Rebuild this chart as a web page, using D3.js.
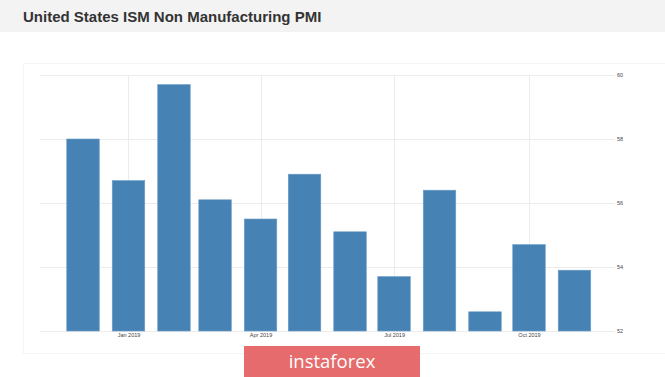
<!DOCTYPE html>
<html>
<head>
<meta charset="utf-8">
<script src="https://cdn.jsdelivr.net/npm/d3@7"></script>
<style>
  html, body { margin: 0; padding: 0; background: #fff; }
  svg { display: block; }
</style>
</head>
<body>
<svg id="chart" width="665" height="377"></svg>
<script>
const title = "United States ISM Non Manufacturing PMI";
const months = ["2018-12-01","2019-01-01","2019-02-01","2019-03-01","2019-04-01","2019-05-01",
                "2019-06-01","2019-07-01","2019-08-01","2019-09-01","2019-10-01","2019-11-01"];
const values = [58.0, 56.7, 59.7, 56.1, 55.5, 56.9, 55.1, 53.7, 56.4, 52.6, 54.7, 53.9];
const yTicks = [52, 54, 56, 58, 60];
const xTickDates = ["2019-01-01","2019-04-01","2019-07-01","2019-10-01"];
const watermark = "instaforex";

const parse = d3.utcParse("%Y-%m-%d");
const data = months.map((m, i) => ({date: parse(m), value: values[i]}));

const svg = d3.select("#chart");
const W = 665, H = 377;

// backgrounds
svg.append("rect").attr("x", 0).attr("y", 0).attr("width", W).attr("height", H).attr("fill", "#ffffff");
svg.append("rect").attr("x", 0).attr("y", 0).attr("width", W).attr("height", 32).attr("fill", "#f3f3f3");
// faint panel frame
svg.append("rect").attr("x", 23.5).attr("y", 63.5).attr("width", 650).attr("height", 290)
  .attr("fill", "none").attr("stroke", "#f4f4f4").attr("stroke-width", 1);

svg.append("text").attr("x", 23).attr("y", 22)
  .attr("font-family", "Liberation Sans, Arial, sans-serif")
  .attr("font-weight", "bold").attr("font-size", 15).attr("fill", "#333333")
  .text(title);

const x = d3.scaleUtc()
  .domain([parse("2018-11-01"), parse("2019-12-01")])
  .range([39, 618.5]);
const y = d3.scaleLinear().domain([52, 60]).range([331, 75]);

const plotLeft = 40, plotRight = 614;

// horizontal grid
svg.append("g").selectAll("line").data(yTicks).join("line")
  .attr("x1", plotLeft).attr("x2", plotRight)
  .attr("y1", d => y(d) + 0.5).attr("y2", d => y(d) + 0.5)
  .attr("stroke", "#ececec").attr("stroke-width", 1);

// vertical grid
svg.append("g").selectAll("line").data(xTickDates.map(parse)).join("line")
  .attr("x1", d => Math.round(x(d)) + 0.5).attr("x2", d => Math.round(x(d)) + 0.5)
  .attr("y1", y(60)).attr("y2", y(52))
  .attr("stroke", "#ececec").attr("stroke-width", 1);

// bars
const barW = 32.5;
svg.append("g").selectAll("rect").data(data).join("rect")
  .attr("x", d => x(d.date) - barW / 2)
  .attr("width", barW)
  .attr("y", d => y(d.value))
  .attr("height", d => y(52) - y(d.value))
  .attr("fill", "#4682b4")
  .attr("stroke", "#6b9cc6").attr("stroke-width", 0.6);

// y axis (right)
const yAxis = d3.axisRight(y).tickValues(yTicks).tickSize(0).tickPadding(0).tickFormat(d3.format("d"));
const gy = svg.append("g").attr("transform", `translate(617,0)`).call(yAxis);
gy.select(".domain").remove();
gy.selectAll("text").attr("font-family", "Liberation Sans, Arial, sans-serif")
  .attr("font-size", 5.5).attr("fill", "#444").attr("dy", "0.32em");

// x axis
const xAxis = d3.axisBottom(x).tickValues(xTickDates.map(parse)).tickSize(0).tickPadding(0)
  .tickFormat(d3.utcFormat("%b %Y"));
const gx = svg.append("g").attr("transform", `translate(0,333)`).call(xAxis);
gx.select(".domain").remove();
gx.selectAll("text").attr("font-family", "Liberation Sans, Arial, sans-serif")
  .attr("font-size", 5.5).attr("fill", "#444").attr("dy", "0.71em");

// watermark
svg.append("rect").attr("x", 244).attr("y", 346).attr("width", 176).attr("height", 31)
  .attr("fill", "#e56b6c");
svg.append("text").attr("x", 332).attr("y", 367.5).attr("text-anchor", "middle")
  .attr("font-family", "Open Sans, Liberation Sans, sans-serif")
  .attr("font-size", 18.5).attr("fill", "#ffffff")
  .text(watermark);
</script>
</body>
</html>
